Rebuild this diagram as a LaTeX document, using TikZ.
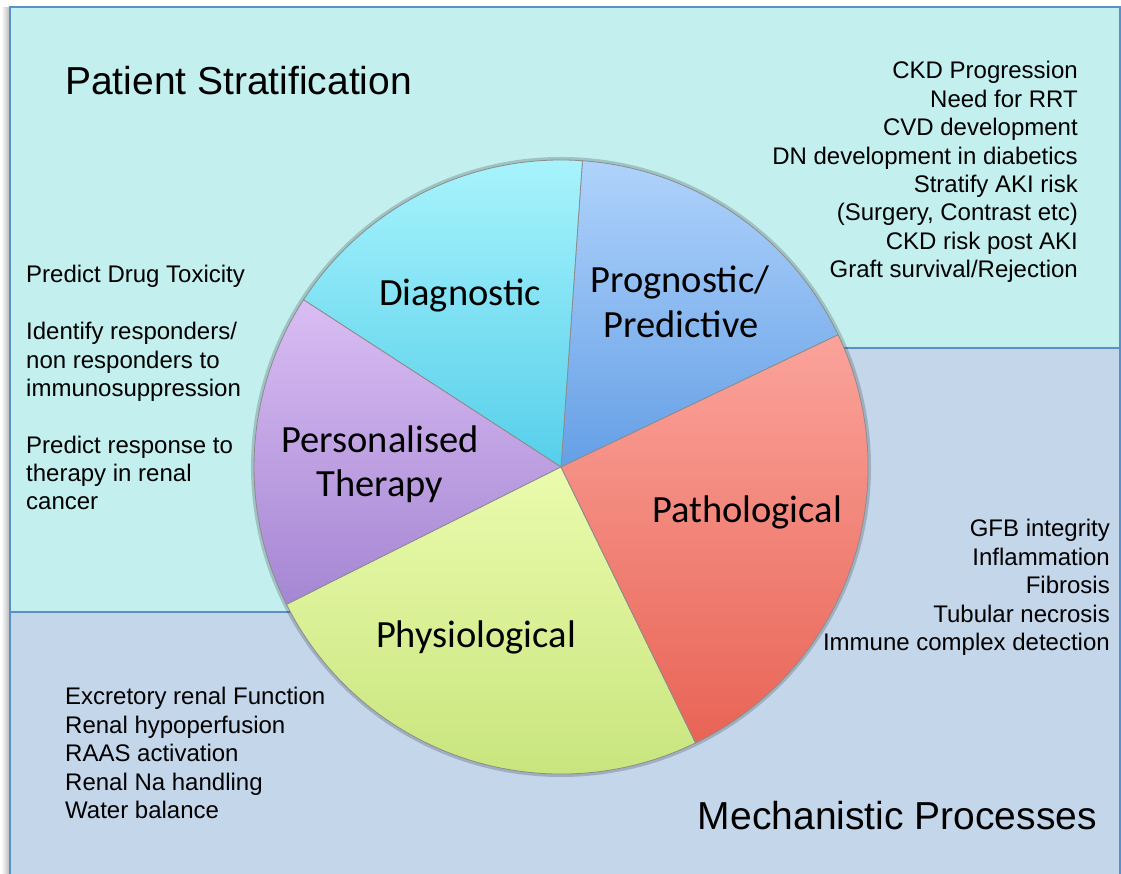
\documentclass[tikz,border=0pt]{standalone}
\usepackage{fontspec}
\setmainfont{Liberation Sans}
\newfontfamily\piefont{Carlito}
\usetikzlibrary{calc}

\definecolor{topbg}{HTML}{C3EFEF}
\definecolor{botbg}{HTML}{C4D6EA}
\definecolor{panelframe}{HTML}{5B8FCA}
\definecolor{diagT}{HTML}{A9F4FD}
\definecolor{diagB}{HTML}{56CFEA}
\definecolor{progT}{HTML}{AFD3FB}
\definecolor{progB}{HTML}{659FE6}
\definecolor{persT}{HTML}{D9BDF3}
\definecolor{persB}{HTML}{A586D3}
\definecolor{physT}{HTML}{EBFBAD}
\definecolor{physB}{HTML}{C3E277}
\definecolor{pathT}{HTML}{FBA39B}
\definecolor{pathB}{HTML}{E86455}

\begin{document}
\begin{tikzpicture}[x=1pt,y=1pt,
  listL/.style={anchor=base west, inner sep=0pt, font=\fontsize{24}{28}\selectfont},
  listR/.style={anchor=base east, inner sep=0pt, font=\fontsize{24}{28}\selectfont},
  paneltitle/.style={inner sep=0pt, font=\fontsize{39}{46}\selectfont},
  pielabel/.style={anchor=base, inner sep=0pt, font=\piefont\fontsize{38.5}{45}\selectfont},
  slice/.style={draw=black!45, line width=0.8pt},
  panel/.style={draw=panelframe, line width=2.5pt}]
\useasboundingbox (0,0) rectangle (1121,874);

% soft shadow along the left edge of the panels
\shade[left color=white, right color=black!28] (1,0) rectangle (10,866);

% upper panel: patient stratification
\filldraw[panel, fill=topbg] (10,867) rectangle (1120,262);
% lower panel: mechanistic processes (L-shaped, tucked behind the pie)
\filldraw[panel, fill=botbg] (10,262) -- (600,262) -- (600,526) -- (1120,526)
  -- (1120,-10) -- (10,-10) -- cycle;

% pie chart
\def\R{307}
\coordinate (c) at (561,407);
\draw[black, opacity=0.18, line width=4pt] (c) circle[radius=\R+1];
\shadedraw[slice, top color=progT, bottom color=progB]
  (c) -- ++(25.5:\R) arc[start angle=25.5, end angle=86, radius=\R] -- cycle;
\shadedraw[slice, top color=diagT, bottom color=diagB]
  (c) -- ++(86:\R) arc[start angle=86, end angle=147, radius=\R] -- cycle;
\shadedraw[slice, top color=persT, bottom color=persB]
  (c) -- ++(147:\R) arc[start angle=147, end angle=206.6, radius=\R] -- cycle;
\shadedraw[slice, top color=physT, bottom color=physB]
  (c) -- ++(206.6:\R) arc[start angle=206.6, end angle=296, radius=\R] -- cycle;
\shadedraw[slice, top color=pathT, bottom color=pathB]
  (c) -- ++(296:\R) arc[start angle=296, end angle=385.5, radius=\R] -- cycle;

% slice labels
\node[pielabel] (diag) at (460,568) {Diagnostic};
\node[pielabel] (progA) at (680,581) {Prognostic/};
\node[pielabel] (progB) at (681,536) {Predictive};
\node[pielabel] (persA) at (380,421) {Personalised};
\node[pielabel] (persB) at (380,377) {Therapy};
\node[pielabel] (path) at (747,351) {Pathological};
\node[pielabel] (phys) at (476,226) {Physiological};

% panel titles
\node[paneltitle, anchor=base west] (strat) at (65,779) {Patient Stratification};
\node[paneltitle, anchor=base east] (mech) at (1097,44) {Mechanistic Processes};

% prognostic / predictive uses
\foreach \t [count=\i] in {CKD Progression, Need for RRT, CVD development,
    DN development in diabetics, Stratify AKI risk, {(Surgery, Contrast etc)},
    CKD risk post AKI, Graft survival/Rejection}
  \node[listR] (prog\i) at (1078,{795-(\i-1)*28.35}) {\t};

% personalised therapy uses
\foreach \t/\k [count=\i] in {Predict Drug Toxicity/0, Identify responders\slash/2,
    non responders to/3, immunosuppression/4, Predict response to/6,
    therapy in renal/7, cancer/8}
  \node[listL] (pers\i) at (26,{591-\k*28.35}) {\t};

% pathological processes
\foreach \t [count=\i] in {GFB integrity, Inflammation, Fibrosis,
    Tubular necrosis, Immune complex detection}
  \node[listR] (path\i) at (1110,{337-(\i-1)*28.35}) {\t};

% physiological processes
\foreach \t [count=\i] in {Excretory renal Function, Renal hypoperfusion,
    RAAS activation, Renal Na handling, Water balance}
  \node[listL] (phys\i) at (65,{169-(\i-1)*28.35}) {\t};
\end{tikzpicture}
\end{document}
